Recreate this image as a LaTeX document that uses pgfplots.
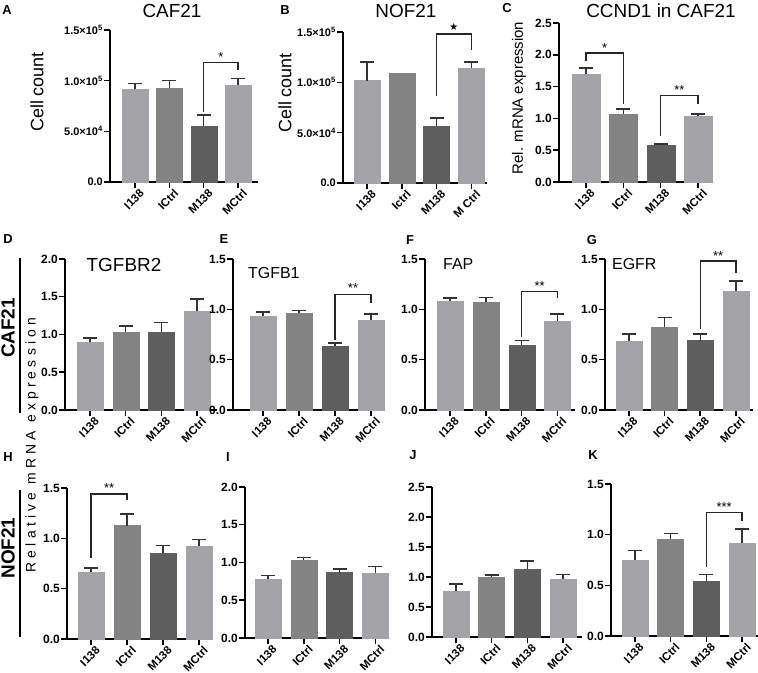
\documentclass[border=0pt]{standalone}
\usepackage{pgfplots}
\pgfplotsset{compat=1.18}
\usepackage{fontspec}
\setmainfont{Liberation Sans}
\newfontfamily\djv{DejaVu Sans}
\definecolor{cL}{HTML}{A4A4A8}
\definecolor{cM}{HTML}{838383}
\definecolor{cD}{HTML}{5E5E5E}
\definecolor{cE}{HTML}{333333}
\newcommand{\fs}[1]{\fontsize{#1}{#1}\selectfont}
\def\bw{26bp}
\pgfplotsset{
 panel/.style={scale only axis, clip=false, axis x line*=bottom, axis y line*=left,
  axis line style={line width=1.8bp, black}, ymin=0, xtick={0,1,2,3},
  xticklabels={I138,ICtrl,M138,MCtrl},
  tick align=outside, major tick length=6bp, tick style={line width=1.5bp, black},
  x tick label style={rotate=45, anchor=north east, font=\fs{11.5}\bfseries, inner sep=0.5bp, xshift=3bp, yshift=-2.5bp},
  y tick label style={font=\fs{12}\bfseries, inner sep=1bp,
    /pgf/number format/fixed, /pgf/number format/fixed zerofill, /pgf/number format/precision=1},
  /pgf/number format/assume math mode=true,
  ytick distance=0.5,
 },
 bs/.style={ybar, bar shift=0pt, bar width=\bw, draw=#1, line width=0.3bp, fill=#1},
 es/.style={error bars/.cd, y dir=plus, y explicit,
   error bar style={draw=cE, solid, line width=1.4bp},
   error mark options={draw=cE, solid, line width=1.4bp, mark size=7bp, rotate=90}},
 br/.style={line width=1.3bp, black!85, mark=none, sharp plot},
}
\newcommand{\bb}[4]{\addplot[bs=#2, es] coordinates {(#1,#3) +- (0,#4)};}
\newcommand{\st}[3]{\node[font=\fs{13}] at (axis cs:#1,#2) {#3};}
\begin{document}
\begin{tikzpicture}
\path[use as bounding box] (0,0) rectangle (758bp,673bp);
% ---------- A ----------
\begin{axis}[panel, at={(110bp,491bp)}, anchor=south west, width=148bp, height=152bp,
  xmin=-0.73, xmax=3.58, ymax=1.5, ytick={0,0.5,1,1.5},
  yticklabels={0.0, 5.0×10\textsuperscript{4}, 1.0×10\textsuperscript{5}, 1.5×10\textsuperscript{5}},
  y tick label style={font=\fs{11}\bfseries}]
\bb{0}{cL}{0.914}{0.06}
\bb{1}{cM}{0.93}{0.07}
\bb{2}{cD}{0.554}{0.106}
\bb{3}{cL}{0.957}{0.063}
\addplot[br] coordinates {(2,0.69) (2,1.18) (3,1.18) (3,1.105)};
\st{2.5}{1.23}{*}
\end{axis}
% ---------- B ----------
\begin{axis}[panel, at={(343bp,490bp)}, anchor=south west, width=144bp, height=151bp,
  xmin=-0.69, xmax=3.45, ymax=1.5, ytick={0,0.5,1,1.5},
  yticklabels={0.0, 5.0×10\textsuperscript{4}, 1.0×10\textsuperscript{5}, 1.5×10\textsuperscript{5}},
  y tick label style={font=\fs{11}\bfseries},
  xticklabels={I138,Ictrl,M138,M Ctrl}]
\bb{0}{cL}{1.017}{0.183}
\addplot[bs=cM] coordinates {(1,1.093)};
\bb{2}{cD}{0.563}{0.083}
\bb{3}{cL}{1.142}{0.058}
\addplot[br] coordinates {(2,0.86) (2,1.48) (3,1.48) (3,1.325)};
\node[font=\djv\fs{10}] at (axis cs:2.5,1.55) {★};
\end{axis}
% ---------- C ----------
\def\bw{28bp}
\begin{axis}[panel, at={(559bp,491bp)}, anchor=south west, width=151bp, height=159bp,
  xmin=-0.72, xmax=3.32, ymax=2.5]
\bb{0}{cL}{1.70}{0.09}
\bb{1}{cM}{1.074}{0.076}
\bb{2}{cD}{0.577}{0.023}
\bb{3}{cL}{1.03}{0.04}
\addplot[br] coordinates {(0,1.90) (0,2.03) (1,2.03) (1,1.23)};
\st{0.5}{2.10}{*}
\addplot[br] coordinates {(2,0.73) (2,1.36) (3,1.36) (3,1.22)};
\st{2.5}{1.45}{**}
\end{axis}
\def\bw{26bp}
% ---------- D ----------
\begin{axis}[panel, at={(65bp,263bp)}, anchor=south west, width=152bp, height=151bp,
  xmin=-0.70, xmax=3.56, ymax=2]
\bb{0}{cL}{0.898}{0.053}
\bb{1}{cM}{1.03}{0.085}
\bb{2}{cD}{1.03}{0.13}
\bb{3}{cL}{1.305}{0.165}
\end{axis}
% ---------- E ----------
\begin{axis}[panel, at={(233bp,263bp)}, anchor=south west, width=151bp, height=151bp,
  xmin=-0.83, xmax=3.36, ymax=1.5]
\bb{0}{cL}{0.937}{0.036}
\bb{1}{cM}{0.96}{0.03}
\bb{2}{cD}{0.638}{0.026}
\bb{3}{cL}{0.897}{0.056}
\addplot[br] coordinates {(2,0.70) (2,1.146) (3,1.146) (3,1.063)};
\st{2.5}{1.21}{**}
\end{axis}
% ---------- F ----------
\begin{axis}[panel, at={(425bp,263bp)}, anchor=south west, width=150bp, height=151bp,
  xmin=-0.70, xmax=3.49, ymax=1.5]
\bb{0}{cL}{1.086}{0.027}
\bb{1}{cM}{1.076}{0.044}
\bb{2}{cD}{0.648}{0.04}
\bb{3}{cL}{0.88}{0.073}
\addplot[br] coordinates {(2,0.73) (2,1.18) (3,1.18) (3,1.11)};
\st{2.5}{1.23}{**}
\end{axis}
% ---------- G ----------
\begin{axis}[panel, at={(605bp,263bp)}, anchor=south west, width=148bp, height=151bp,
  xmin=-0.67, xmax=3.48, ymax=1.5]
\bb{0}{cL}{0.688}{0.066}
\bb{1}{cM}{0.824}{0.096}
\bb{2}{cD}{0.69}{0.064}
\bb{3}{cL}{1.18}{0.10}
\addplot[br] coordinates {(2,0.80) (2,1.48) (3,1.48) (3,1.36)};
\st{2.5}{1.53}{**}
\end{axis}
% ---------- H ----------
\begin{axis}[panel, at={(67bp,34bp)}, anchor=south west, width=146bp, height=151bp,
  xmin=-0.67, xmax=3.39, ymax=1.5]
\bb{0}{cL}{0.666}{0.039}
\bb{1}{cM}{1.126}{0.114}
\bb{2}{cD}{0.854}{0.073}
\bb{3}{cL}{0.927}{0.06}
\addplot[br] coordinates {(0,0.80) (0,1.44) (1,1.44) (1,1.38)};
\st{0.5}{1.50}{**}
\end{axis}
% ---------- I ----------
\begin{axis}[panel, at={(245bp,35bp)}, anchor=south west, width=143bp, height=151bp,
  xmin=-0.64, xmax=3.35, ymax=2]
\bb{0}{cL}{0.782}{0.044}
\bb{1}{cM}{1.033}{0.035}
\bb{2}{cD}{0.866}{0.048}
\bb{3}{cL}{0.857}{0.088}
\end{axis}
% ---------- J ----------
\begin{axis}[panel, at={(432bp,36bp)}, anchor=south west, width=150bp, height=150bp,
  xmin=-0.67, xmax=3.53, ymax=2.5]
\bb{0}{cL}{0.769}{0.116}
\bb{1}{cM}{1.0}{0.03}
\bb{2}{cD}{1.128}{0.142}
\bb{3}{cL}{0.963}{0.082}
\end{axis}
% ---------- K ----------
\begin{axis}[panel, at={(611bp,37bp)}, anchor=south west, width=147bp, height=152bp,
  xmin=-0.67, xmax=3.45, ymax=1.5]
\bb{0}{cL}{0.75}{0.092}
\bb{1}{cM}{0.958}{0.056}
\bb{2}{cD}{0.542}{0.066}
\bb{3}{cL}{0.915}{0.142}
\addplot[br] coordinates {(2,0.68) (2,1.22) (3,1.22) (3,1.13)};
\st{2.5}{1.27}{***}
\end{axis}
% ---------- titles and labels ----------
\begin{scope}[every node/.style={inner sep=0pt}]
\node[font=\fs{19}, anchor=base] at (172bp,655bp) {CAF21};
\node[font=\fs{19}, anchor=base] at (406bp,655bp) {NOF21};
\node[font=\fs{19}, anchor=base] at (661bp,655bp) {CCND1 in CAF21};
\node[font=\fs{19}, anchor=base] at (124bp,401bp) {TGFBR2};
\node[font=\fs{16}, anchor=base west] at (248bp,394bp) {TGFB1};
\node[font=\fs{16}, anchor=base west] at (443bp,403bp) {FAP};
\node[font=\fs{16}, anchor=base west] at (612bp,403bp) {EGFR};
\node[font=\fs{18}, rotate=90] at (37bp,581bp) {Cell count};
\node[font=\fs{18}, rotate=90] at (285bp,580bp) {Cell count};
\node[font=\fs{15}, rotate=90] at (519bp,575bp) {Rel. mRNA expression};
\node[font=\fs{14}\addfontfeature{LetterSpace=30}, rotate=90] at (32bp,228bp) {Relative mRNA expression};
\node[font=\fs{19}\bfseries, rotate=90] at (8bp,345bp) {CAF21};
\node[font=\fs{19}\bfseries, rotate=90] at (8bp,125bp) {NOF21};
\foreach \t/\x/\y in {A/7/663, B/285/663, C/507/665, D/8/434, E/224/434, F/410/433, G/592/433, H/8/216, I/228/216, J/413/218, K/593/218}
  \node[font=\fs{13}\bfseries] at (\x bp,\y bp) {\t};
\end{scope}
\draw[line width=1.5bp] (20bp,415bp) -- (20bp,260bp);
\draw[line width=1.5bp] (20bp,183bp) -- (20bp,36bp);
\end{tikzpicture}
\end{document}
